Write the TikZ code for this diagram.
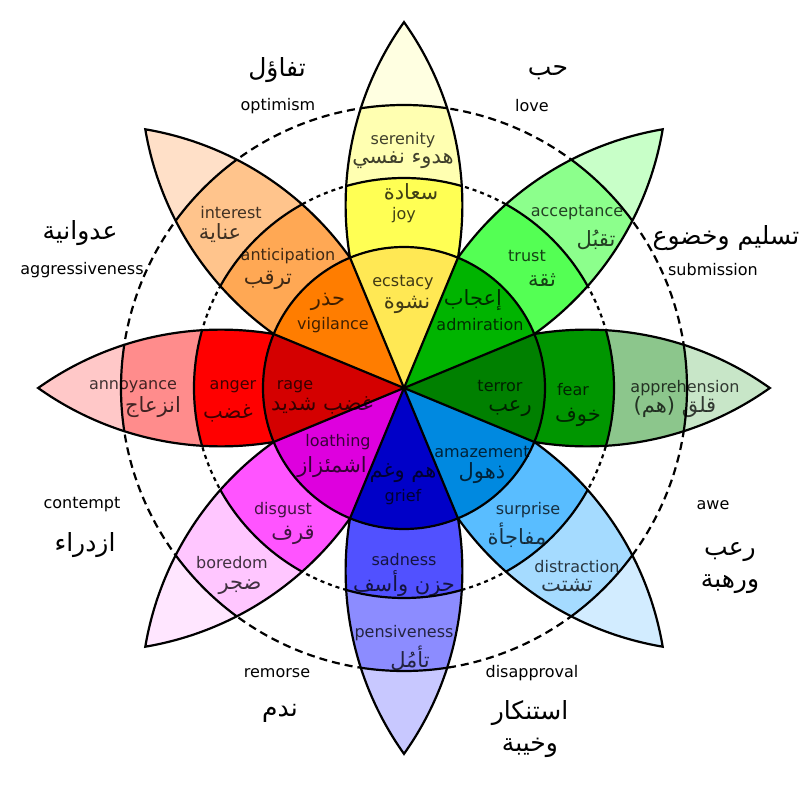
\documentclass[tikz,border=0pt]{standalone}
\usepackage{fontspec}
\setmainfont{DejaVu Sans}
\newfontfamily\arabicfont[Script=Arabic]{DejaVu Sans}
\TeXXeTstate=1
\usepackage{tikz}

% petal colours: tip, outer band, middle band, centre
\definecolor{joytip}{HTML}{FFFFE1}
\definecolor{serenity}{HTML}{FFFFB1}
\definecolor{joy}{HTML}{FFFF54}
\definecolor{ecstacy}{HTML}{FFE854}
\definecolor{trusttip}{HTML}{C8FFC8}
\definecolor{acceptance}{HTML}{8CFF8C}
\definecolor{trust}{HTML}{54FF54}
\definecolor{admiration}{HTML}{00B400}
\definecolor{feartip}{HTML}{C8E6C8}
\definecolor{apprehension}{HTML}{8CC68C}
\definecolor{fear}{HTML}{009600}
\definecolor{terror}{HTML}{008000}
\definecolor{surprisetip}{HTML}{D2ECFF}
\definecolor{distraction}{HTML}{A5DBFF}
\definecolor{surprise}{HTML}{59BDFF}
\definecolor{amazement}{HTML}{0089E0}
\definecolor{sadtip}{HTML}{C8C8FF}
\definecolor{pensiveness}{HTML}{8C8CFF}
\definecolor{sadness}{HTML}{5151FF}
\definecolor{grief}{HTML}{0000C8}
\definecolor{disgusttip}{HTML}{FFE6FF}
\definecolor{boredom}{HTML}{FFC6FF}
\definecolor{disgust}{HTML}{FF54FF}
\definecolor{loathing}{HTML}{DE00DE}
\definecolor{angertip}{HTML}{FFC8C8}
\definecolor{annoyance}{HTML}{FF8C8C}
\definecolor{anger}{HTML}{FF0000}
\definecolor{rage}{HTML}{D40000}
\definecolor{anticiptip}{HTML}{FFE0C8}
\definecolor{interest}{HTML}{FFC48C}
\definecolor{anticipation}{HTML}{FFA854}
\definecolor{vigilance}{HTML}{FF7D00}

% one petal: angle, tip colour, outer band, middle band
\newcommand{\petal}[4]{%
  \begin{scope}[rotate=#1]
    \begin{scope}
      \clip (0,0) arc[start angle=125.4, end angle=54.6, radius=315.8]
                  arc[start angle=-54.6, end angle=-125.4, radius=315.8] -- cycle;
      \fill[#2] (0,0) circle[radius=370];
      \fill[#3] (0,0) circle[radius=283];
      \fill[#4] (0,0) circle[radius=210];
      \draw[band] (0,0) circle[radius=283] (0,0) circle[radius=210];
    \end{scope}
    \draw[band] (0,0) arc[start angle=125.4, end angle=54.6, radius=315.8]
                arc[start angle=-54.6, end angle=-125.4, radius=315.8] -- cycle;
  \end{scope}}

\begin{document}
\begin{tikzpicture}[x=1pt, y=1pt,
    band/.style={draw=black, line width=2.2pt},
    outring/.style={draw=black, line width=2.2pt, dash pattern=on 8pt off 5pt},
    inring/.style={draw=black, line width=2.2pt, dash pattern=on 4pt off 4pt},
    lab/.style={inner sep=0pt, text opacity=0.75, font=\fontsize{16}{18}\selectfont},
    labar/.style={inner sep=0pt, text opacity=0.75, font=\arabicfont\fontsize{21}{24}\selectfont},
    outlab/.style={inner sep=0pt, font=\fontsize{16}{18}\selectfont},
    outar/.style={inner sep=0pt, align=center, font=\arabicfont\fontsize{25}{32}\selectfont}
]
\useasboundingbox (-404,-408) rectangle (403,388);

% Dashed rings
\draw[outring] (0,0) circle[radius=283];
\draw[inring] (0,0) circle[radius=210];

% Petals
\petal{90}{joytip}{serenity}{joy}
\petal{45}{trusttip}{acceptance}{trust}
\petal{0}{feartip}{apprehension}{fear}
\petal{-45}{surprisetip}{distraction}{surprise}
\petal{-90}{sadtip}{pensiveness}{sadness}
\petal{-135}{disgusttip}{boredom}{disgust}
\petal{180}{angertip}{annoyance}{anger}
\petal{135}{anticiptip}{interest}{anticipation}

% Centre
\fill[ecstacy] (0,0) -- (67.5:141) arc[start angle=67.5, end angle=112.5, radius=141] -- cycle;
\fill[vigilance] (0,0) -- (112.5:141) arc[start angle=112.5, end angle=157.5, radius=141] -- cycle;
\fill[rage] (0,0) -- (157.5:141) arc[start angle=157.5, end angle=202.5, radius=141] -- cycle;
\fill[loathing] (0,0) -- (202.5:141) arc[start angle=202.5, end angle=247.5, radius=141] -- cycle;
\fill[grief] (0,0) -- (247.5:141) arc[start angle=247.5, end angle=292.5, radius=141] -- cycle;
\fill[amazement] (0,0) -- (292.5:141) arc[start angle=292.5, end angle=337.5, radius=141] -- cycle;
\fill[terror] (0,0) -- (-22.5:141) arc[start angle=-22.5, end angle=22.5, radius=141] -- cycle;
\fill[admiration] (0,0) -- (22.5:141) arc[start angle=22.5, end angle=67.5, radius=141] -- cycle;
\draw[band] (0,0) circle[radius=141];
\draw[band] (22.5:141) -- (202.5:141) (67.5:141) -- (247.5:141)
            (112.5:141) -- (292.5:141) (157.5:141) -- (337.5:141);

% Joy
\node (serenitylab) [lab] at (-1,248) {serenity};
\node (serenityar) [labar] at (-1,228) {\beginR هدوء نفسي\endR};
\node (joyar) [labar] at (7,196) {\beginR سعادة\endR};
\node (joylab) [lab] at (0,173) {joy};
\node (ecstacylab) [lab] at (-1,105) {ecstacy};
\node (ecstacyar) [labar] at (3,83) {\beginR نشوة\endR};

% Anticipation
\node (interestlab) [lab] at (-173,175) {interest};
\node (interestar) [labar] at (-184,155) {\beginR عناية\endR};
\node (anticiplab) [lab] at (-116,132) {anticipation};
\node (anticipar) [labar] at (-136,108) {\beginR ترقب\endR};
\node (vigilancear) [labar] at (-76,86) {\beginR حذر\endR};
\node (vigilancelab) [lab] at (-71,63) {vigilance};

% Trust
\node (acceptlab) [lab] at (173,175) {acceptance};
\node (acceptar) [labar] at (192,148) {\beginR تقبُل\endR};
\node (trustlab) [lab] at (123,132) {trust};
\node (trustar) [labar] at (138,108) {\beginR ثقة\endR};
\node (admirar) [labar] at (69,88) {\beginR إعجاب\endR};
\node (admirlab) [lab] at (76,63) {admiration};

% Anger
\node (annoylab) [lab] at (-271,1) {annoyance};
\node (annoyar) [labar] at (-251,-19) {\beginR انزعاج\endR};
\node (angerlab) [lab] at (-171,1) {anger};
\node (angerar) [labar] at (-176,-25) {\beginR غضب\endR};
\node (ragelab) [lab] at (-109,1) {rage};
\node (ragear) [labar] at (-82,-17) {\beginR غضب شديد\endR};

% Fear
\node (terrorlab) [lab] at (96,2) {terror};
\node (terrorar) [labar] at (106,-21) {\beginR رعب\endR};
\node (fearlab) [lab] at (169,-2) {fear};
\node (fearar) [labar] at (174,-29) {\beginR خوف\endR};
\node (apprehlab) [lab] at (281,0) {apprehension};
\node (apprehar) [labar] at (271,-19) {\beginR قلق (هم)\endR};

% Disgust
\node (loathlab) [lab] at (-66,-54) {loathing};
\node (loathar) [labar] at (-72,-79) {\beginR اشمئزاز\endR};
\node (disgustlab) [lab] at (-121,-122) {disgust};
\node (disgustar) [labar] at (-111,-147) {\beginR قرف\endR};
\node (boredlab) [lab] at (-172,-175) {boredom};
\node (boredar) [labar] at (-164,-199) {\beginR ضجر\endR};

% Sadness
\node (griefar) [labar] at (-1,-85) {\beginR هم وغم\endR};
\node (grieflab) [lab] at (-1,-109) {grief};
\node (sadlab) [lab] at (0,-172) {sadness};
\node (sadar) [labar] at (0,-196) {\beginR حزن وأسف\endR};
\node (pensivelab) [lab] at (0,-245) {pensiveness};
\node (pensivear) [labar] at (6,-270) {\beginR تأمُل\endR};

% Surprise
\node (amazelab) [lab] at (78,-64) {amazement};
\node (amazear) [labar] at (78,-85) {\beginR ذهول\endR};
\node (surpriselab) [lab] at (124,-122) {surprise};
\node (surprisear) [labar] at (113,-147) {\beginR مفاجأة\endR};
\node (distractlab) [lab] at (173,-179) {distraction};
\node (distractar) [labar] at (163,-197) {\beginR تشتت\endR};

% Dyads
\node (optimismar) [outar] at (-127,318) {\beginR تفاؤل\endR};
\node (optimismlab) [outlab] at (-126,282) {optimism};
\node (lovear) [outar] at (144,315) {\beginR حب\endR};
\node (lovelab) [outlab] at (128,282) {love};
\node (submissar) [outar] at (322,150) {\beginR تسليم وخضوع\endR};
\node (submisslab) [outlab] at (309,118) {submission};
\node (aggressar) [outar] at (-324,155) {\beginR عدوانية\endR};
\node (aggresslab) [outlab] at (-322,118) {aggressiveness};
\node (contemptlab) [outlab] at (-322,-117) {contempt};
\node (contemptar) [outar] at (-319,-157) {\beginR ازدراء\endR};
\node (remorselab) [outlab] at (-127,-285) {remorse};
\node (remorsear) [outar] at (-124,-325) {\beginR ندم\endR};
\node (disapprlab) [outlab] at (128,-285) {disapproval};
\node (disapprar) [outar] at (126,-341) {\beginR استنكار\endR\\\beginR وخيبة\endR};
\node (awelab) [outlab] at (309,-117) {awe};
\node (awear) [outar] at (326,-180) {\beginR رعب\endR\\\beginR ورهبة\endR};

\end{tikzpicture}
\end{document}
